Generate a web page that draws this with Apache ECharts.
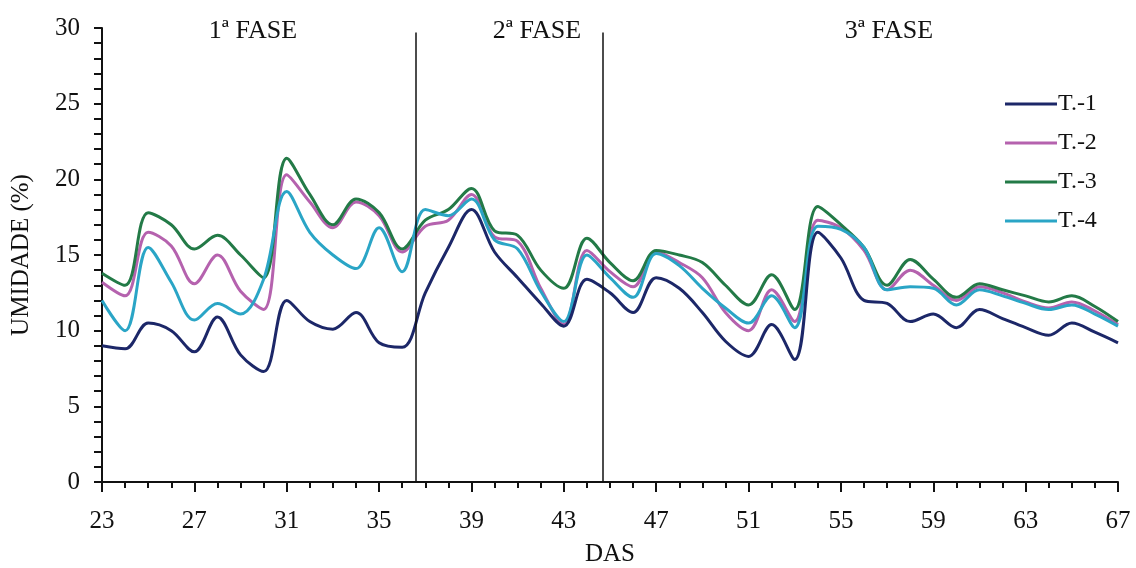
<!DOCTYPE html>
<html>
<head>
<meta charset="utf-8">
<script src="https://cdn.jsdelivr.net/npm/echarts@6/dist/echarts.min.js"></script>
<style>
  html, body { margin: 0; padding: 0; background: #fff; }
  #chart { width: 1136px; height: 568px; }
</style>
</head>
<body>
<div id="chart"></div>
<script>
// dias após semeadura
var days = [];
for (var d = 23; d <= 67; d++) days.push(d);

var t1 = [9.0, 8.8, 10.5, 10.0, 8.6, 10.9, 8.4, 7.3, 12.0, 10.6, 10.1, 11.2, 9.2, 8.9, 12.5,
  15.5, 18.0, 15.2, 13.5, 11.8, 10.3, 13.4, 12.5, 11.2, 13.5, 12.8, 11.2, 9.3, 8.3, 10.4,
  8.1, 16.5, 14.8, 12.0, 11.8, 10.6, 11.1, 10.2, 11.4, 10.8, 10.2, 9.7, 10.5, 9.9, 9.2];
var t2 = [13.2, 12.3, 16.5, 15.6, 13.1, 15.0, 12.6, 11.4, 20.3, 18.5, 16.8, 18.5, 17.6, 15.2, 16.9,
  17.3, 19.0, 16.2, 15.9, 12.8, 10.4, 15.3, 13.9, 12.9, 15.2, 14.5, 13.5, 11.2, 10.0, 12.7,
  10.6, 17.3, 16.8, 15.3, 12.7, 14.0, 13.0, 12.0, 12.9, 12.5, 11.9, 11.5, 11.9, 11.3, 10.4];
var t3 = [13.8, 13.0, 17.8, 17.0, 15.4, 16.3, 15.0, 13.5, 21.4, 19.0, 17.0, 18.7, 17.8, 15.4, 17.3,
  18.0, 19.4, 16.6, 16.3, 14.0, 12.8, 16.1, 14.5, 13.3, 15.3, 15.0, 14.5, 13.0, 11.7, 13.7,
  11.4, 18.2, 17.0, 15.5, 13.0, 14.7, 13.4, 12.2, 13.1, 12.7, 12.3, 11.9, 12.3, 11.6, 10.6];
var t4 = [12.0, 10.0, 15.5, 13.2, 10.7, 11.8, 11.1, 13.4, 19.2, 16.5, 15.0, 14.1, 16.8, 13.9, 18.0,
  17.6, 18.7, 16.0, 15.4, 12.6, 10.6, 15.0, 13.5, 12.2, 15.1, 14.3, 12.8, 11.5, 10.5, 12.3,
  10.2, 16.9, 16.7, 15.5, 12.7, 12.9, 12.8, 11.7, 12.7, 12.3, 11.8, 11.4, 11.7, 11.1, 10.3];

var seriesNames = ['T.-1', 'T.-2', 'T.-3', 'T.-4'];
var phaseBounds = [36.6, 44.7];
var phaseNames = ['1ª FASE', '2ª FASE', '3ª FASE'];

var colors = ['#1c2768', '#b562ae', '#237a47', '#2aa5c6'];
var serif = '"Liberation Serif", "DejaVu Serif", serif';

function pairs(arr) {
  return arr.map(function(v, i) { return [days[i], v]; });
}

var chart = echarts.init(document.getElementById('chart'));

var series = [t1, t2, t3, t4].map(function(arr, i) {
  var s = {
    name: seriesNames[i],
    type: 'line',
    xAxisIndex: 0,
    data: pairs(arr),
    smooth: 0.35,
    showSymbol: false,
    lineStyle: { width: 3, color: colors[i] },
    itemStyle: { color: colors[i] },
    z: i === 0 ? 4 : 3
  };
  if (i === 0) {
    // linhas verticais separando as fases
    s.markLine = {
      silent: true,
      symbol: 'none',
      label: { show: false },
      lineStyle: { color: '#111', width: 1.5, type: 'solid' },
      data: phaseBounds.map(function(b) {
        return [{ coord: [b, 0] }, { coord: [b, 29.7] }];
      })
    };
  }
  return s;
});

chart.setOption({
  backgroundColor: '#fff',
  animation: false,
  grid: { left: 102, right: 18, top: 28, bottom: 86, outerBoundsMode: 'none' },
  legend: {
    data: seriesNames.map(function(n, i) { return { name: n, icon: 'rect', itemStyle: { color: colors[i] } }; }),
    orient: 'vertical',
    left: 1000,
    top: 87,
    itemWidth: 52,
    itemHeight: 3,
    itemGap: 15,
    textStyle: { fontFamily: serif, fontSize: 24, color: '#111', padding: [0, 0, 0, -4] }
  },
  graphic: [
    { type: 'text', x: 253, y: 31, style: { text: phaseNames[0], font: '26px ' + serif, fill: '#111', align: 'center', verticalAlign: 'middle' } },
    { type: 'text', x: 537, y: 31, style: { text: phaseNames[1], font: '26px ' + serif, fill: '#111', align: 'center', verticalAlign: 'middle' } },
    { type: 'text', x: 889, y: 31, style: { text: phaseNames[2], font: '26px ' + serif, fill: '#111', align: 'center', verticalAlign: 'middle' } }
  ],
  xAxis: [{
    type: 'value',
    min: 23,
    max: 67,
    interval: 1,
    name: 'DAS',
    nameLocation: 'middle',
    nameGap: 60,
    nameTextStyle: { fontFamily: serif, fontSize: 25, color: '#111' },
    axisLine: { lineStyle: { color: '#111', width: 2 } },
    axisTick: { length: 6, lineStyle: { color: '#111', width: 2 } },
    axisLabel: {
      margin: 27,
      fontFamily: serif,
      fontSize: 25,
      color: '#111',
      formatter: function(v) { return (v - 23) % 4 === 0 ? String(v) : ''; }
    },
    splitLine: { show: false }
  }, {
    type: 'category',
    data: days,
    boundaryGap: false,
    position: 'bottom',
    axisLine: { show: false },
    axisTick: { interval: 3, length: 10, lineStyle: { color: '#111', width: 2 } },
    axisLabel: { show: false },
    splitLine: { show: false }
  }],
  yAxis: {
    type: 'value',
    min: 0,
    max: 30,
    interval: 5,
    name: 'UMIDADE (%)',
    nameLocation: 'middle',
    nameGap: 68,
    nameTextStyle: { fontFamily: serif, fontSize: 25, color: '#111' },
    axisLine: { show: true, lineStyle: { color: '#111', width: 2 } },
    axisTick: { show: true, length: 8, lineStyle: { color: '#111', width: 2 } },
    minorTick: { show: true, splitNumber: 5, length: 8, lineStyle: { color: '#111', width: 2 } },
    axisLabel: { margin: 22, fontFamily: serif, fontSize: 25, color: '#111' },
    splitLine: { show: false }
  },
  series: series
});
</script>
</body>
</html>
